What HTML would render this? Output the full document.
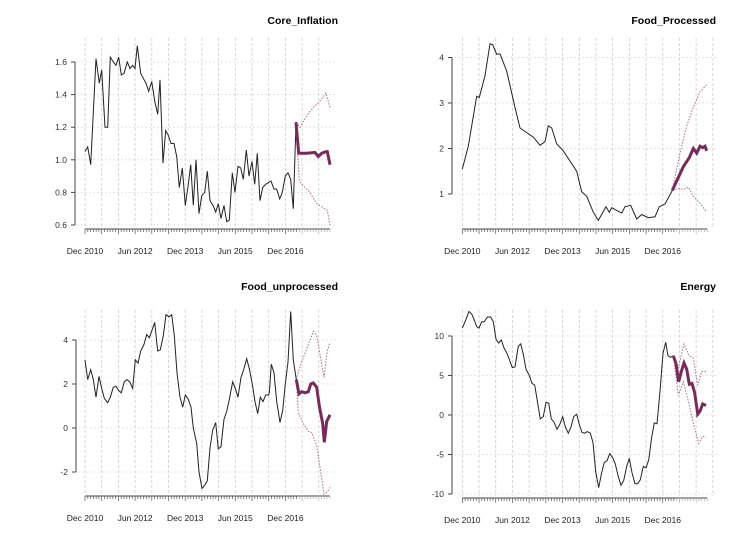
<!DOCTYPE html><html><head><style>body{margin:0;background:#fff}svg{display:block}text{font-family:"Liberation Sans",sans-serif}</style></head><body>
<svg id="s" width="754" height="533" xmlns="http://www.w3.org/2000/svg"></svg>
<script>
var S=document.getElementById('s'),h='';
function P(o){
 var X=function(zx){return zx/3+o.ox};
 for(var k=0;k<16;k++){var zx=o.z0+k*50.1;if(zx>885)break;var x=X(zx);
  h+='<line x1="'+x+'" y1="'+o.top+'" x2="'+x+'" y2="'+(o.ay-2)+'" stroke="#ccc" stroke-width="0.8" stroke-dasharray="3,2"/>';}
 o.ticks.forEach(function(t){var y=o.y(t);h+='<line x1="'+(o.ax+2)+'" y1="'+y+'" x2="'+X(890)+'" y2="'+y+'" stroke="#ddd" stroke-width="0.8" stroke-dasharray="2,2"/>';
  h+='<line x1="'+(o.ax-4)+'" y1="'+y+'" x2="'+o.ax+'" y2="'+y+'" stroke="#444"/><text x="'+(o.ax-8)+'" y="'+(y+3)+'" font-size="8.5" text-anchor="end" fill="#333">'+t+'</text>';});
 h+='<line x1="'+o.ax+'" y1="'+o.y(o.ticks[0])+'" x2="'+o.ax+'" y2="'+o.y(o.ticks[o.ticks.length-1])+'" stroke="#444"/>';
 var xs=X(o.z0),xe=X(o.z0+88*8.35);
 h+='<line x1="'+xs+'" y1="'+o.ay+'" x2="'+xe+'" y2="'+o.ay+'" stroke="#444"/>';
 for(var m=0;m<=88;m++){var x=X(o.z0+m*8.35);h+='<line x1="'+x+'" y1="'+o.ay+'" x2="'+x+'" y2="'+(o.ay+(m%6?3:5))+'" stroke="'+(m>76?'#aaa':'#555')+'" stroke-width="0.7"/>';}
 ['Dec 2010','Jun 2012','Dec 2013','Jun 2015','Dec 2016'].forEach(function(l,i){h+='<text x="'+X(o.z0+i*150.3)+'" y="'+(o.ay+25)+'" font-size="8.5" text-anchor="middle" fill="#222">'+l+'</text>';});
 h+='<text x="'+o.tx+'" y="'+o.ty+'" font-size="10.5" font-weight="bold" text-anchor="end">'+o.title+'</text>';
 function pl(a,st){var p=[];for(var i=0;i<a.length;i+=2)p.push(X(a[i]).toFixed(1)+','+o.y(a[i+1]).toFixed(1));h+='<polyline fill="none" points="'+p.join(' ')+'" '+st+'/>';}
 pl(o.up,'stroke="#a07088" stroke-width="1" stroke-dasharray="1.5,1.5"');
 pl(o.lo,'stroke="#a07088" stroke-width="1" stroke-dasharray="1.5,1.5"');
 pl(o.d,'stroke="#222" stroke-width="1"');
 pl(o.f,'stroke="#7a2a58" stroke-width="3"');
}
P({ox:40,z0:135,ax:75,ay:229,top:38,tx:338,ty:24,title:'Core_Inflation',ticks:[0.6,0.8,1.0,1.2,1.4,1.6].map(function(v){return v.toFixed(1)}),
 y:function(v){return 225-(v-0.6)*163},
 d:[135,1.05,143,1.08,152,0.97,168,1.62,178,1.47,185,1.55,195,1.2,203,1.2,211,1.63,220,1.6,228,1.58,236,1.63,244,1.52,252,1.53,262,1.6,270,1.56,278,1.58,285,1.56,292,1.7,302,1.53,310,1.5,318,1.47,326,1.42,335,1.48,345,1.35,353,1.28,360,1.49,369,0.98,377,1.18,385,1.15,393,1.1,402,1.1,410,1.02,418,0.83,427,0.95,436,0.72,445,0.85,452,0.97,460,0.72,468,1.0,477,0.67,485,0.78,494,0.8,502,0.93,510,0.75,519,0.72,527,0.68,535,0.73,543,0.64,552,0.72,560,0.62,568,0.63,577,0.92,585,0.8,594,0.96,602,0.95,610,0.88,619,1.06,627,0.9,636,0.99,644,0.85,652,1.04,660,0.75,668,0.83,677,0.85,693,0.87,702,0.82,710,0.82,719,0.76,727,0.8,736,0.9,744,0.92,752,0.88,760,0.7,768,1.23],
 f:[768,1.23,776,1.04,800,1.04,825,1.045,835,1.02,845,1.04,858,1.05,862,1.05,870,0.97],
 up:[768,1.23,780,1.2,800,1.27,820,1.32,840,1.36,858,1.41,870,1.32],
 lo:[768,1.23,778,0.87,790,0.84,810,0.8,830,0.73,855,0.70,862,0.69,870,0.6]});
P({ox:420,z0:127,ax:452,ay:229,top:38,tx:716,ty:24,title:'Food_Processed',ticks:['1','2','3','4'],
 y:function(v){return 194-(v-1)*45.5},
 d:[127,1.55,145,2.05,170,3.15,178,3.12,195,3.6,210,4.3,218,4.28,230,4.07,240,4.08,260,3.7,285,2.9,300,2.45,320,2.35,340,2.25,360,2.07,375,2.15,385,2.5,395,2.45,410,2.1,430,1.95,470,1.5,485,1.05,500,0.95,520,0.6,535,0.42,558,0.72,568,0.6,575,0.7,595,0.62,605,0.58,615,0.72,632,0.75,650,0.45,665,0.55,685,0.48,705,0.5,718,0.72,735,0.78,757,1.08],
 f:[757,1.08,790,1.6,808,1.8,820,2.0,830,1.9,840,2.05,848,2.02,855,2.05,860,1.95],
 up:[757,1.08,780,1.9,800,2.5,820,2.9,840,3.25,860,3.4],
 lo:[757,1.08,775,1.12,790,1.1,805,1.15,820,0.95,840,0.8,860,0.6]});
P({ox:40,z0:135,ax:76,ay:496,top:310,tx:338,ty:290,title:'Food_unprocessed',ticks:['-2','0','2','4'],
 y:function(v){return 428-v*22},
 d:[135,3.1,143,2.2,152,2.65,160,2.2,168,1.4,177,2.35,185,1.8,193,1.35,203,1.15,211,1.4,220,1.85,228,1.9,236,1.7,244,1.6,253,2.1,261,2.2,269,2.1,278,1.8,286,3.1,294,2.95,302,3.5,312,3.8,320,4.25,328,4.1,344,4.8,353,3.5,361,3.55,370,4.2,378,5.15,387,5.05,395,5.15,403,4.2,411,2.5,420,1.4,428,0.95,436,1.5,445,1.3,453,0.95,460,0,470,-0.7,477,-2,486,-2.75,494,-2.6,502,-2.4,510,-0.9,518,-0.1,527,0.25,535,-0.95,543,-0.85,552,0.4,560,0.75,568,1.3,578,2.1,586,1.8,594,1.4,603,2.3,612,2.7,620,3.15,628,2.7,637,2.0,645,1.2,653,0.65,661,1.4,669,1.2,677,1.5,686,1.5,688,1.6,694,2.9,702,2.5,710,1.2,720,0.25,728,0.8,736,2.0,744,3.0,752,5.3,760,3.1,769,2.2],
 f:[769,2.2,777,1.55,785,1.65,795,1.6,805,1.65,812,2.0,820,2.05,830,1.85,838,1.0,848,0.2,853,-0.65,860,0.3,870,0.6],
 up:[769,2.2,780,2.8,800,3.6,820,4.4,830,4.2,845,2.9,852,2.3,862,3.5,870,3.9],
 lo:[769,2.2,775,0.7,790,0.2,805,-0.15,815,-0.2,830,-0.8,845,-2.3,852,-3.0,862,-2.9,870,-2.7]});
P({ox:420,z0:127,ax:452,ay:498,top:310,tx:716,ty:290,title:'Energy',ticks:['-10','-5','0','5','10'],
 y:function(v){return 415-v*7.9},
 d:[127,11,137,12,147,13.1,155,12.8,163,12,170,11.2,177,11,185,11.8,193,11.8,202,12.4,212,12.4,220,11.8,228,9.6,236,9.1,244,9.5,252,8.5,261,7.8,269,6.9,277,6,285,6.1,295,8.7,302,9,310,7.7,318,5.8,328,5,336,4,344,3.8,352,1.8,361,-0.5,370,-0.2,378,1.6,386,1.5,394,-0.5,402,-0.9,411,-1.8,419,-1.2,428,-0.2,436,-1.5,445,-2.3,453,-1.5,461,-0.2,470,0.1,478,-1.2,486,-2.2,494,-2.3,502,-2.1,511,-2.3,519,-3.5,527,-7.2,536,-9.2,544,-7.5,553,-6,561,-5.8,569,-4.9,578,-5.4,586,-6.2,595,-7.8,603,-8.9,611,-8.3,620,-6.5,628,-5.5,636,-7.3,645,-8.7,653,-8.7,661,-8.2,670,-6.5,678,-6.7,686,-5.7,695,-2.8,703,-1,711,-1.1,720,3,729,7.8,737,9.2,744,7.5,752,7.3,760,7.5],
 f:[760,7.5,768,6.5,776,4.2,784,5.5,792,6.6,800,5.8,808,3.9,816,4.0,824,2.8,833,0.1,840,0.5,848,1.4,858,1.2],
 up:[760,7.5,775,6.0,792,9.0,808,7.5,820,7.2,833,3.8,845,5.5,858,5.5],
 lo:[760,7.5,775,2.5,790,4.2,805,1.8,820,-1,836,-3.6,848,-2.7,858,-2.8]});
S.innerHTML=h;
</script></body></html>
